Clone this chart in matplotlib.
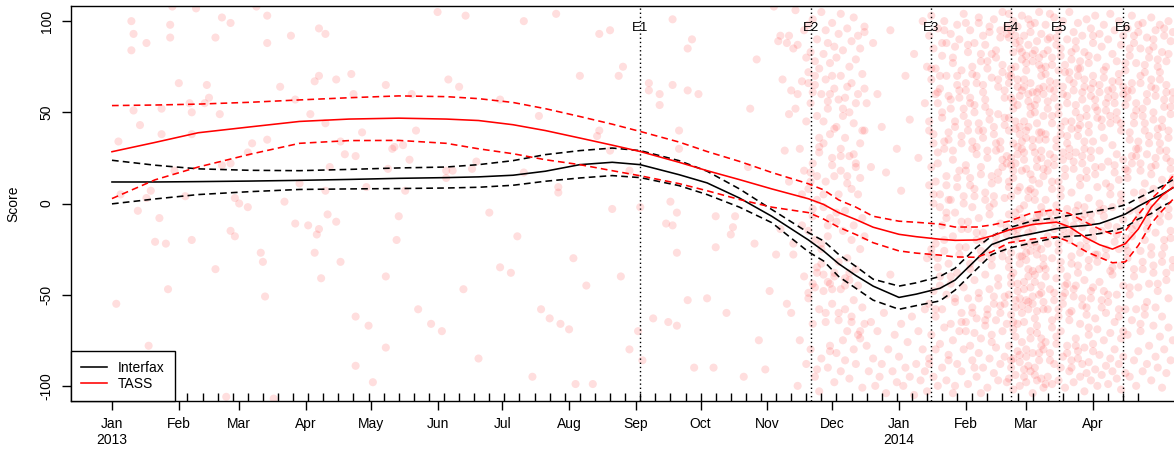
import numpy as np
import pandas as pd
import matplotlib
matplotlib.use("Agg")
import matplotlib.pyplot as plt
import matplotlib.dates as mdates
from matplotlib.lines import Line2D

plt.rcParams['font.family'] = ['Liberation Sans', 'DejaVu Sans']

# ---------------- data ----------------
base_date = "2013-01-01"

curve_dates = ["2013-01-01", "2013-01-21", "2013-02-10", "2013-03-06", "2013-03-29", "2013-04-21",
               "2013-05-14", "2013-06-05", "2013-06-20", "2013-07-06", "2013-07-21", "2013-08-06",
               "2013-08-21", "2013-09-03", "2013-09-21", "2013-10-04", "2013-10-19", "2013-11-03",
               "2013-11-20", "2013-11-27", "2013-12-04", "2013-12-12", "2013-12-20", "2014-01-01",
               "2014-01-09", "2014-01-20", "2014-01-27", "2014-02-06", "2014-02-13", "2014-02-21",
               "2014-03-04", "2014-03-15", "2014-03-21", "2014-03-29", "2014-04-04", "2014-04-10",
               "2014-04-16", "2014-04-22", "2014-04-28", "2014-05-03", "2014-05-08"]

interfax_fit = [11.8, 11.8, 12.0, 12.3, 12.7, 13.2, 13.8, 14.2, 14.6, 15.5, 17.7, 21.3,
                22.6, 21.3, 15.8, 11.3, 3.0, -7.0, -20.0, -26.0, -33.0, -39.5, -45.3, -51.5,
                -49.7, -46.5, -42.0, -30.5, -22.5, -19.0, -16.5, -13.8, -12.8, -12.0, -11.0, -8.5,
                -5.8, -1.5, 2.2, 5.0, 8.6]
interfax_upper = [23.7, 21.0, 19.0, 18.2, 18.0, 18.7, 19.5, 20.0, 21.3, 23.5, 26.8, 29.0,
                  30.4, 29.0, 23.5, 17.7, 8.0, -3.3, -16.0, -20.5, -27.9, -34.5, -41.5, -45.3,
                  -43.5, -40.0, -35.5, -24.0, -18.0, -13.3, -9.5, -7.8, -6.5, -5.0, -3.8, -2.5,
                  -0.8, 3.0, 6.5, 9.5, 13.0]
interfax_lower = [-0.2, 2.5, 4.9, 6.5, 7.7, 8.0, 8.2, 8.5, 8.9, 10.0, 12.2, 14.0,
                  15.3, 14.2, 9.8, 4.9, -2.0, -10.5, -26.5, -31.5, -40.0, -46.5, -53.0, -58.0,
                  -56.0, -53.4, -47.5, -36.0, -28.0, -24.5, -21.5, -18.7, -18.0, -17.5, -16.5, -15.0,
                  -13.0, -8.5, -5.5, -1.5, 1.3]

tass_fit = [28.4, 33.5, 38.8, 42.0, 45.0, 46.3, 46.8, 46.3, 45.5, 43.2, 40.0, 35.9,
            32.0, 28.5, 22.6, 18.0, 13.1, 8.0, 2.6, -0.5, -5.0, -8.8, -13.0, -16.9,
            -18.2, -19.6, -20.2, -20.0, -17.8, -14.5, -11.5, -10.2, -12.8, -19.0, -22.6, -25.0,
            -22.0, -14.0, -2.0, 4.5, 8.8]
tass_upper = [53.7, 54.0, 54.5, 55.5, 56.8, 58.0, 59.0, 58.6, 57.5, 55.4, 52.0, 47.7,
              43.5, 39.5, 33.7, 28.5, 23.1, 17.0, 10.8, 7.5, 2.0, -2.0, -7.0, -9.7,
              -10.3, -11.3, -12.9, -12.9, -11.8, -9.7, -5.0, -3.3, -5.5, -10.5, -14.0, -16.9,
              -15.0, -6.0, 2.5, 8.0, 15.0]
tass_lower = [2.7, 13.0, 20.0, 27.0, 33.0, 34.5, 34.6, 33.0, 30.0, 27.3, 24.0, 21.3,
              18.0, 15.2, 10.9, 7.0, 2.2, -2.0, -5.0, -8.5, -13.0, -17.0, -21.5, -26.0,
              -27.2, -28.3, -29.3, -29.5, -26.5, -21.5, -19.5, -18.2, -21.0, -26.5, -29.5, -32.5,
              -32.0, -23.0, -11.0, -4.0, 2.2]

event_labels = ["E1", "E2", "E3", "E4", "E5", "E6"]
event_dates = ["2013-09-03", "2013-11-21", "2014-01-16", "2014-02-22", "2014-03-16", "2014-04-15"]

month_tick_dates = ["2013-01-01", "2013-02-01", "2013-03-01", "2013-04-01", "2013-05-01", "2013-06-01",
                    "2013-07-01", "2013-08-01", "2013-09-01", "2013-10-01", "2013-11-01", "2013-12-01",
                    "2014-01-01", "2014-02-01", "2014-03-01", "2014-04-01"]
month_tick_labels = ["Jan\n2013", "Feb", "Mar", "Apr", "May", "Jun", "Jul", "Aug", "Sep", "Oct",
                     "Nov", "Dec", "Jan\n2014", "Feb", "Mar", "Apr"]

y_ticks = [-100, -50, 0, 50, 100]

rug_first = "2013-01-01"
rug_last = "2014-04-22"
rug_step_days = 7

# sparse 2013 articles (day offset from base_date, score)
sparse_days = [3, 2, 4, 9, 10, 9, 10, 13, 12, 16, 16, 18, 17, 20, 22, 23, 23, 25, 26, 27, 27, 28, 29, 31,
               34, 36, 37, 37, 37, 39, 43, 44, 45, 48, 48, 50, 51, 51, 55, 55, 55, 57, 57, 59, 63, 63,
               65, 67, 69, 70, 71, 72, 72, 72, 78, 80, 83, 85, 85, 87, 91, 92, 94, 94, 95, 96, 96, 96,
               97, 99, 99, 99, 100, 101, 104, 104, 106, 106, 108, 111, 112, 113, 113, 113, 116, 118, 119,
               121, 127, 127, 127, 128, 131, 133, 132, 53, 75, 223,
               139, 161, 156, 141, 130, 135, 138, 155, 158, 169, 167, 155, 136, 198, 191, 207, 207, 226,
               225, 231, 232, 240, 254, 249, 260, 263, 263, 259, 262, 257, 260, 245,
               231, 237, 235, 260, 269, 267, 249, 267, 272, 254, 296, 299, 309, 310, 311, 307,
               246, 279, 303, 280, 289, 287, 288, 280, 262, 298, 295, 308, 310, 312, 267, 276, 251,
               258, 262,
               142, 148, 153, 163, 180, 185, 199, 203, 208, 212, 215, 151, 164, 191, 206, 217, 226, 180,
               170, 195, 188, 175, 214, 220, 236, 240, 285, 300, 293, 305, 270, 244]
sparse_scores = [34, -55, 5, 100, 93, 84, 51, 43, -4, 88, 3, 7, -78, -21, -8, 38, 52, -22, -47, 98, 91, 108,
                 18, 66, 4, 55, 50, 38, -20, 107, 55, 65, 58, 91, -36, 49, 21, 102, 99, 22, -15, 3, -18, 0,
                 -2, 28, 33, 108, -27, -32, -51, 35, 103, 88, 64, 1, 92, 57, -11, 11, -12, 49, 67, -27, -17,
                 96, -14, 70, -41, 93, 44, 7, -6, 20, 68, -10, -32, 34, 27, 71, 60, -62, -89, 26, 39, 9,
                 -67, -98, 65, -40, -79, 19, 31, -7, -20, -106, -107, -99,
                 60, 64, 68, 40, 30, 32, 24, 18, 18, 23, 19, 14, 7, 48, 17, 9, 6, 40,
                 37, 29, -3, 18, 60, 66, 65, 40, 30, 1, -5, -11, -12, -2,
                 95, 75, 70, 101, 90, 85, 62, 62, 60, 54, 52, 79, 89, 92, 68, 108,
                 -86, -90, -91, -7, -7, -17, -13, -24, -27, -22, 20, -28, -14, 29, -53, -52, -63,
                 -65, -67,
                 -58, -66, -70, -47, -35, -38, -58, -63, -66, -69, -99, 105, 103, 100, 104, 70, 93, 57,
                 -85, -95, -18, -5, -30, -45, -40, -80, -60, -75, -95, -48, -90, -70]

# dense period: one list of scores per consecutive day, starting at dense_start
dense_start = "2013-11-10"
dense_scores = [
    [88, -55], [92, 12, 49], [62, -60], [85, -22, -28], [52, 106], [87, -100, 60], [30, -75],
    [67, 5, -12], [95, -40, 18], [-88, 45, 80],
    [72, 66, -15, 98, -52, -49, 8], [-80, 55, 83, 12, 17], [22, -66, 101, -7, -3, -44, 61],
    [-95, 65, 70, -20, 78, -46], [15, 90, -38, -35, 48, 2, -91], [-103, 28, 74, -58, 31, 36],
    [60, -85, 105, -25, -22, -33], [33, -48, 82, -2, 5, 45, -39], [95, -60, 12, 68, -65],
    [-18, 88, -90, 52, 56, -43, -12], [60, -78, 38, -44, 77, -8, -81], [-55, 70, 25, 99, 21, -47],
    [86, -98, 15, -40, 63, -38, 41], [-10, 42, -82, 80, -5], [57, -64, 93, 5, -32, -60],
    [104, -92, 30, -47, 70, 26, 18], [48, -15, 84, -75, 52], [-86, 36, -4, 58, -58, -41, -45],
    [11, 96, -30, 64, -70, 15], [50, -96, 26, 75, -42, -38], [89, -62, 8, -20, 66, -65],
    [-80, 44, 102, -12, -53, 27], [22, -88, 79, -36, 55, 20], [92, 5, -45, 60, -72],
    [-70, 33, 85, -25, 14, -74], [-101, 71, -8, -57, 40], [40, 97, -66, -18, 63, 94],
    [55, -78], [-92], [20, -65], [-85, 88], [-100], [60, -70], [-95], [42, -88], [-60], [17, -104],
    [-80], [-39, 95], [-92], [-72], [-98, 30], [-84], [7, -66], [-100], [-90, 70], [-76], [46, -95],
    [-62], [-105, 82], [-88], [25, -70], [-97], [100, -80], [55, -58, -92], [-30, -103, 75],
    [92, 45, 40, -55, -85, 10, -88], [68, 20, -28, -72, 103, -25, 74], [85, 38, 0, -48, -95, 33, 5],
    [-62, 12, -80, 74, 60, -22, -58], [96, -35, 28, 55, -100, 22, -30, 61], [63, 5, -40, -77, 70, -2, -45],
    [-90, 81, 47, -12, -58, 88, 50], [100, 30, -26, -68, -20, 34, 95], [70, 15, -8, -50, -97, 88, -5, 10],
    [59, 35, -33, -83, 39, -86, 2], [93, 52, 2, -44, -66, 57, -40], [77, 24, -18, -75, -104, 29, 80],
    [86, 42, -5, -54, 45, -52, -100], [65, 9, -38, -88, 98, 14, 70], [90, 58, 18, -28, -70, -24, 62],
    [73, 33, -14, -60, -92, 37, -65, -10], [104, 48, 4, -46, -80, 52, 0],
    [62, 21, -24, -65, 66, 18, -70, 99], [83, 40, -10, -52, -99, 44, 87, -14],
    [95, 14, -36, -78, 55, 10, -33, 58], [71, 30, -2, -57, -86, 34, 75, -60],
    [88, 50, 8, -42, -71, 54, 4, -90], [66, 27, -20, -63, -95, 31, -16, 70],
    [99, 44, -8, -49, -82, 40, -52, 102], [78, 16, -30, -74, 20, 82, -26, -104],
    [61, 36, -16, -90, 92, 65, 40, -20], [87, 53, 6, -39, -67, 57, 2, -64],
    [74, 25, -27, -58, -101, 29, -61, 78], [94, 46, -6, -47, -85, 50, -2, 97],
    [69, 11, -34, -76, 82, 15, -30, -72], [101, 38, 0, -55, -93, 42, 4, -51],
    [80, 29, -22, -64, -79, 33, 84, -18], [64, 49, 13, -41, -97, 68, 17, -45],
    [91, 34, -11, -60, -88, 30, 95, -56], [76, 20, -29, -70, 105, 24, -25, 72],
    [58, 43, 3, -51, -84, 47, 62, -55], [97, 26, -17, -66, -98, 22, -13, 93],
    [104, 91, 66, 47, 40, 12, -6, -35, -50, -78, -96, 70, -31, 9],
    [95, 70, 58, 21, 4, -27, -44, -61, -90, 74, 25, -40, -86],
    [100, 83, 52, 33, 14, -15, -38, -69, -85, -102, 56, 18, -65],
    [88, 75, 41, 22, -9, -20, -57, -73, -94, 92, 45, -5, -53],
    [97, 64, 54, 27, 7, -18, -48, -66, -81, 68, 31, -14, -44],
    [85, 59, 38, 9, -3, -33, -52, -87, -100, 89, 42, -29, -83],
    [103, 79, 62, 30, 18, -12, -29, -60, -76, 83, 34, -8, -56],
    [92, 68, 45, 24, -1, -23, -47, -65, -95, 64, 28, -43, -91],
    [81, 73, 36, 19, -11, -31, -53, -84, -98, 77, 40, -27, -80],
    [101, 87, 56, 42, 3, -16, -40, -58, -89, 60, 7, -36, -54],
    [94, 66, 49, 16, 8, -26, -46, -74, -92, 98, 53, -22, -70],
    [78, 61, 31, 13, -14, -37, -55, -82, -104, 82, 35, -10, -51],
    [99, 84, 50, 28, 6, -21, -43, -63, -90, 54, 2, -39, -94],
    [89, 57, 44, 20, -7, -28, -59, -71, -97, 61, 24, -24, -67],
    [105, 76, 63, 35, 11, -10, -36, -50, -86, 80, 39, -6, -82],
    [93, 70, 39, 25, -2, -25, -49, -78, -96, 74, 29, -45, -74],
    [82, 60, 48, 15, -5, -34, -54, -80, -101, 64, 19, -30, -58],
    [98, 71, 35, 2, -40, -76, 75, 38, -36, -99], [84, 52, 18, -22, -58, -95, 56, 22, -18, 90],
    [91, 63, 27, -9, -47, -82, 104, 67, -5, -86], [76, 44, 8, -30, -68, -99, 48, 12, -64, 80],
    [102, 58, 21, -14, -53, -88, 62, 25, -49, -10], [87, 66, 31, -5, -41, -73, 91, 35, -1, -77],
    [95, 49, 12, -26, -62, -97, 73, 53, -22, -58], [81, 38, 4, -36, -70, -90, 42, 8, -32, 85],
    [100, 60, 24, -18, -55, -84, 64, 28, -51, -14], [72, 45, 15, -11, -49, -101, 76, 19, -45, -7],
    [90, 55, 33, -3, -44, -78, 59, 37, -40, -82], [105, 68, 26, -20, -64, -92, 72, 30, -60, -16],
    [79, 41, 6, -33, -59, -86, 83, 45, -29, -90], [94, 62, 19, -16, -51, -98, 66, 23, -12, -47],
    [85, 50, 28, -8, -45, -74, 89, 54, -4, -78], [99, 70, 37, -1, -38, -81, 74, 41, -34, -85],
    [74, 43, 10, -27, -66, -95, 47, 14, -23, 78], [92, 57, 22, -13, -56, -88, 61, 26, -52, -9],
    [83, 64, 30, -6, -42, -79, -103, 68, 34, -2], [101, 48, 14, -24, -61, -93, 52, 18, -57, -20],
    [77, 39, 3, -35, -72, -87, 81, 43, -31, -68], [96, 59, 25, -10, -52, -97, 63, 29, -6, -48],
    [88, 66, 34, -19, -46, -77, 92, 70, -15, -81],
    [103, 53, 16, -28, -63, -91, 57, 20], [80, 47, 9, -32, -69, -100, 51, -28],
    [93, 61, 29, -4, -43, -83, 65, 0], [86, 42, 20, -15, -57, -94, 46, -53],
    [98, 69, 36, -7, -48, -75, 73, -3], [75, 51, 11, -29, -60, -89, 55, -25],
    [90, 58, 23, -12, -54, -99, 62, -50], [104, 44, 5, -37, -71, -85, 48, 9],
    [82, 63, 32, -2, -39, -92, 67, -35], [95, 55, 17, -21, -65, -80, 59, 21],
    [78, 46, 27, -17, -50, -96, 50, -13], [100, 67, 13, -25, -62, -88, 71, -58],
    [87, 40, 1, -34, -74, -102, 44, 5], [92, 60, 24, -9, -45, -84, -70, 64],
    [73, 54, 19, -23, -58, -93, 77, -19], [96, 58, 14, -30, -72, 62, -26, 18],
    [81, 35, -4, -50, -95, 39, 85, -46], [103, 62, 22, -18, -64, 66, -14, 26],
    [88, 44, 6, -40, -86, 48, 92, -36], [77, 51, 26, -12, -58, -100, 55, 30],
    [94, 30, -8, -46, -81, 34, 98, -4], [85, 66, 18, -26, -70, 70, 22, -66],
    [99, 48, 2, -36, -92, 52, 6, -32], [72, 40, 11, -20, -61, 44, 76, -57],
    [91, 56, 27, -14, -54, -88, 60, -10], [80, 33, -6, -44, -78, 37, 84, -2],
    [102, 64, 16, -28, -97, 68, -24, 20], [86, 46, 8, -38, -67, 50, 90, -34],
    [95, 59, 21, -16, -57, -84, 63, 25], [75, 37, -2, -48, -90, 41, 79, -44],
    [98, 68, 29, -10, -73, 72, -6, 33], [83, 42, 13, -32, -62, -101, 46, -28],
    [92, 53, 4, -24, -80, 57, 96, -20], [78, 61, 25, -42, -93, 65, 29, -38],
    [100, 36, -7, -52, -68, 40, 82, -3], [89, 49, 19, -19, -86, 53, 23, -15],
    [94, 57, 10, -35, -75, 61, 14, -31],
]

# ---------------- figure ----------------
W, H = 1174, 451
fig = plt.figure(figsize=(W / 100, H / 100), dpi=100)
ax_left, ax_right, ax_top, ax_bottom = 71, 1200, 6, 401
ax = fig.add_axes([ax_left / W, 1 - ax_bottom / H, (ax_right - ax_left) / W, (ax_bottom - ax_top) / H])

base = pd.Timestamp(base_date)
base_num = mdates.date2num(base)

# scatter points
sx = [base_num + d for d in sparse_days]
sy = list(sparse_scores)
dstart = mdates.date2num(pd.Timestamp(dense_start))
for i, vals in enumerate(dense_scores):
    for v in vals:
        sx.append(dstart + i)
        sy.append(v)
ax.scatter(sx, sy, s=34, color=(1, 0, 0, 0.13), edgecolors='none', zorder=1)

# event lines
for lab, d in zip(event_labels, event_dates):
    xd = mdates.date2num(pd.Timestamp(d))
    ax.axvline(xd, color='black', lw=1.0, ls=(0, (1, 2)), zorder=2)
    ax.text(xd, 96, lab, ha='center', va='center', fontsize=9.5, zorder=4)

# fitted curves
cx = mdates.date2num(pd.to_datetime(curve_dates))
dash = (0, (4.2, 2.6))
ax.plot(cx, interfax_fit, color='black', lw=1.15, zorder=3)
ax.plot(cx, interfax_upper, color='black', lw=1.15, ls=dash, zorder=3)
ax.plot(cx, interfax_lower, color='black', lw=1.15, ls=dash, zorder=3)
ax.plot(cx, tass_fit, color='red', lw=1.15, zorder=3)
ax.plot(cx, tass_upper, color='red', lw=1.15, ls=dash, zorder=3)
ax.plot(cx, tass_lower, color='red', lw=1.15, ls=dash, zorder=3)

# rug
rug = mdates.date2num(pd.date_range(rug_first, rug_last, freq=f"{rug_step_days}D"))
ax.vlines(rug, 0, 8 / (ax_bottom - ax_top), transform=ax.get_xaxis_transform(),
          color='black', lw=1.0, zorder=4)

# axes limits and ticks
ax.set_xlim(base_num - 19.0, base_num + 504.6)
ax.set_ylim(-108.3, 108.3)
ax.set_xticks(mdates.date2num(pd.to_datetime(month_tick_dates)))
ax.set_xticklabels(month_tick_labels, fontsize=10, linespacing=1.15)
ax.set_yticks(y_ticks)
ax.set_yticklabels([str(v) for v in y_ticks], fontsize=10, rotation=90, va='center')
ax.tick_params(axis='both', direction='out', length=6.5, width=1.0, color='black')
ax.tick_params(axis='x', pad=5)
ax.tick_params(axis='y', pad=6)
for side in ['left', 'bottom', 'top']:
    ax.spines[side].set_linewidth(1.0)
    ax.spines[side].set_color('black')
ax.spines['right'].set_visible(False)

ax.set_ylabel('Score', fontsize=10)
ax.yaxis.set_label_coords(-0.045, 0.5)

# legend
handles = [Line2D([0], [0], color='black', lw=1.15), Line2D([0], [0], color='red', lw=1.15)]
leg = ax.legend(handles, ['Interfax', 'TASS'], loc='lower left', bbox_to_anchor=(0, 0),
                borderaxespad=0, fontsize=10, frameon=True, fancybox=False, framealpha=1,
                edgecolor='black', handlelength=1.9, handletextpad=0.8, borderpad=0.7,
                labelspacing=0.15)
leg.get_frame().set_linewidth(1.0)
leg.set_zorder(10)

fig.savefig("out.png", dpi=100)
